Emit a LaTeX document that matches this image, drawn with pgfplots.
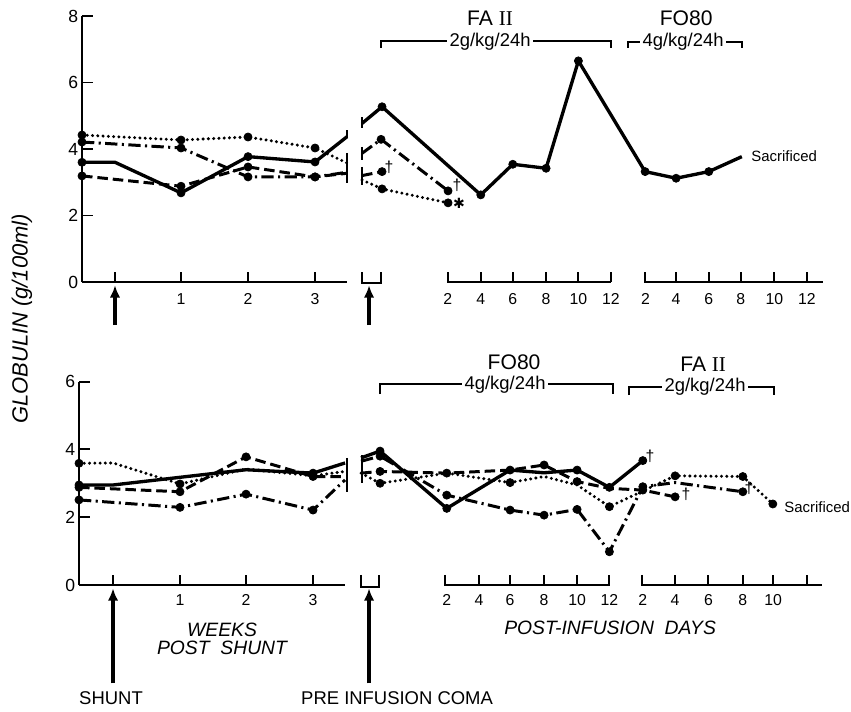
\documentclass[border=0pt]{standalone}
\usepackage{fontspec}
\setmainfont{Liberation Sans}
\newfontfamily\serif{Liberation Serif}
\newfontfamily\dejavu{DejaVu Sans}
\usepackage{pgfplots}
\pgfplotsset{compat=1.18}
\usetikzlibrary{arrows.meta}
\tikzset{
  solidS/.style={line width=1.9pt, line join=round},
  dotS/.style={line width=1.9pt, line cap=round, dash pattern=on 0pt off 3pt},
  dashS/.style={line width=1.7pt, dash pattern=on 6pt off 2.8pt},
  ddS/.style={line width=1.7pt, dash pattern=on 7pt off 2.5pt on 1.2pt off 2.5pt},
  mk/.style={only marks, mark=*, mark size=2.3pt, mark options={solid, fill=black, draw=black}},
  axl/.style={line width=1.1pt},
  brk/.style={line width=1.3pt},
  arr/.style={line width=1.9pt, -{Latex[length=7pt,width=6pt]}},
  tl/.style={font=\fontsize{9}{9}\selectfont},
  ttl/.style={font=\fontsize{12}{12}\selectfont},
  dose/.style={font=\fontsize{10.5}{11}\selectfont, fill=white, inner sep=1.5pt},
  sac/.style={font=\fontsize{8.5}{9}\selectfont, anchor=west},
  dag/.style={font=\fontsize{9}{9}\selectfont},
}
\pgfplotsset{
  panel/.style={
    anchor=south west, x=0.02cm, hide x axis, axis y line*=left,
    y axis line style={line width=1.1pt},
    tick align=inside, major tick length=0.22cm,
    ytick style={line width=1.1pt, black},
    /pgf/number format/assume math mode=true,
    yticklabel={\pgfmathprintnumber{\tick}},
    tick label style={font=\fontsize{10}{10}\selectfont},
    yticklabel style={font=\fontsize{10}{10}\selectfont, inner sep=2pt},
    clip=false, xtick=\empty,
  }
}
\begin{document}
\begin{tikzpicture}
\useasboundingbox (0,0) rectangle (17.02,14.24);
% ================= TOP PANEL =================
\begin{axis}[panel, at={(1.64cm,8.60cm)}, y=0.665cm,
  xmin=82, xmax=850, ymin=0, ymax=8, ytick={0,2,4,6,8}]
% solid
\addplot[solidS] coordinates {(82,3.6)(115,3.6)(181,2.68)(248,3.77)(315,3.61)(347,4.37)};
\addplot[solidS] coordinates {(362,4.77)(382,5.27)(480.7,2.62)(512.7,3.54)(546,3.42)(578.3,6.65)(645,3.32)(676,3.12)(708.7,3.32)(741.7,3.77)};
\addplot[mk] coordinates {(82,3.6)(181,2.68)(248,3.77)(315,3.61)(382,5.27)(480.7,2.62)(512.7,3.54)(546,3.42)(578.3,6.65)(645,3.32)(676,3.12)(708.7,3.32)};
% dotted
\addplot[dotS] coordinates {(82,4.42)(181,4.27)(248,4.36)(315,4.03)(347,3.58)};
\addplot[dotS] coordinates {(362,3.07)(382,2.8)(448,2.38)};
\addplot[mk] coordinates {(82,4.42)(181,4.27)(248,4.36)(315,4.03)(382,2.8)(448,2.38)};
% dash-dot
\addplot[ddS] coordinates {(82,4.21)(181,4.03)(248,3.16)(315,3.16)(347,3.3)};
\addplot[ddS] coordinates {(362,3.87)(381,4.29)(448,2.74)};
\addplot[mk] coordinates {(82,4.21)(181,4.03)(248,3.16)(315,3.16)(381,4.29)(448,2.74)};
% dashed
\addplot[dashS] coordinates {(82,3.19)(181,2.88)(248,3.46)(315,3.16)(347,3.27)};
\addplot[dashS] coordinates {(362,3.2)(382,3.32)};
\addplot[mk] coordinates {(82,3.19)(181,2.88)(248,3.46)(315,3.16)(382,3.32)};
% axes pieces
\draw[axl] (82,0) -- (347,0);
\draw[axl] (115,0) -- (115,0.3) (181,0) -- (181,0.3) (248,0) -- (248,0.3) (315,0) -- (315,0.3);
\draw[axl] (362,0.3) -- (362,-0.03) -- (381,-0.03) -- (381,0.3);
\draw[axl] (447.7,0.3) -- (447.7,0) -- (610.7,0);
\draw[axl] (480.7,0) -- (480.7,0.3) (512.7,0) -- (512.7,0.3) (546,0) -- (546,0.3) (578.3,0) -- (578.3,0.3) (610.7,0) -- (610.7,0.3);
\draw[axl] (645.3,0.3) -- (645.3,0) -- (823,0);
\draw[axl] (676,0) -- (676,0.3) (708.7,0) -- (708.7,0.3) (740.7,0) -- (740.7,0.3) (774.3,0) -- (774.3,0.3) (806.7,0) -- (806.7,0.3);
% break bars
\draw[brk] (347,4.57) -- (347,4.33) (347,3.88) -- (347,2.98);
\draw[brk] (362,4.96) -- (362,4.63) (362,4.06) -- (362,3.67) (362,3.46) -- (362,2.92);
% tick labels
\path[tl] (181,-0.5) node {1} (248,-0.5) node {2} (315,-0.5) node {3};
\path[tl] (447.7,-0.5) node {2} (480.7,-0.5) node {4} (512.7,-0.5) node {6} (546,-0.5) node {8} (578.3,-0.5) node {10} (610.7,-0.5) node {12};
\path[tl] (645.3,-0.5) node {2} (676,-0.5) node {4} (708.7,-0.5) node {6} (740.7,-0.5) node {8} (774.3,-0.5) node {10} (806.7,-0.5) node {12};
% arrows
\draw[arr] (115,-1.3) -- (115,-0.1);
\draw[arr] (369,-1.3) -- (369,-0.1);
% brackets and titles
\draw[axl] (381,7.04) -- (381,7.25) -- (610.7,7.25) -- (610.7,7.04);
\node[dose] at (490,7.23) {2g/kg/24h};
\node[ttl] at (490,7.94) {FA {\serif II}};
\draw[axl] (628,7.04) -- (628,7.22) -- (741.7,7.22) -- (741.7,7.04);
\node[dose] at (683,7.22) {4g/kg/24h};
\node[ttl] at (686,7.94) {FO80};
\node[sac] at (745,3.77) {Sacrificed};
\node[dag] at (457,2.9) {†};
\node[dag] at (389,3.45) {†};
\node[font=\dejavu\fontsize{8}{8}\selectfont] at (459,2.36) {✱};
% y label
\node[rotate=90, font=\itshape\fontsize{12.5}{13}\selectfont] at (22,-1.11) {GLOBULIN (g/100ml)};
\end{axis}
% ================= BOTTOM PANEL =================
\begin{axis}[panel, at={(1.58cm,2.54cm)}, y=0.678cm,
  xmin=79, xmax=850, ymin=0, ymax=6, ytick={0,2,4,6}]
% dotted
\addplot[dotS] coordinates {(79,3.59)(113,3.6)(180,2.98)(246,3.42)(313,3.22)(345,3.35)};
\addplot[dotS] coordinates {(361,3.3)(380,3.0)(446.7,3.3)(510,3.02)(544,3.2)(577,2.95)(609.3,2.31)(675,3.22)(742.7,3.2)(772.7,2.39)};
\addplot[mk] coordinates {(79,3.59)(180,2.98)(380,3.0)(510,3.02)(609.3,2.31)(675,3.22)(742.7,3.2)(772.7,2.39)};
% solid
\addplot[solidS] coordinates {(79,2.95)(113,2.95)(246,3.4)(313,3.3)(345,3.6)};
\addplot[solidS] coordinates {(361,3.75)(380,3.95)(446.7,2.26)(510,3.39)(544,3.31)(577,3.39)(609.3,2.88)(642.7,3.67)};
\addplot[mk] coordinates {(79,2.95)(313,3.3)(380,3.95)(446.7,2.26)(510,3.39)(577,3.39)(609.3,2.88)(642.7,3.67)};
% dashed
\addplot[dashS] coordinates {(79,2.88)(180,2.75)(246,3.78)(313,3.2)(345,3.2)};
\addplot[dashS] coordinates {(361,3.3)(380,3.35)(446.7,3.3)(510,3.39)(544,3.54)(577,3.05)(609.3,2.85)(642.7,2.8)(675,2.6)};
\addplot[mk] coordinates {(79,2.88)(180,2.75)(246,3.78)(313,3.2)(380,3.35)(446.7,3.3)(544,3.54)(577,3.05)(642.7,2.8)(675,2.6)};
% dash-dot
\addplot[ddS] coordinates {(79,2.51)(180,2.29)(246,2.68)(313,2.21)(345,3.1)};
\addplot[ddS] coordinates {(361,3.65)(380,3.8)(446.7,2.65)(510,2.21)(544,2.06)(577,2.23)(609.3,0.98)(642.7,2.9)(675,3.02)(742.7,2.75)};
\addplot[mk] coordinates {(79,2.51)(180,2.29)(246,2.68)(313,2.21)(380,3.8)(446.7,2.65)(510,2.21)(544,2.06)(577,2.23)(609.3,0.98)(642.7,2.9)(742.7,2.75)};
% axes pieces
\draw[axl] (79,0) -- (345,0);
\draw[axl] (113,0) -- (113,0.3) (180,0) -- (180,0.3) (246,0) -- (246,0.3) (313,0) -- (313,0.3);
\draw[axl] (361,0.3) -- (361,-0.06) -- (379,-0.06) -- (379,0.3);
\draw[axl] (445,0.3) -- (445,0) -- (610,0);
\draw[axl] (479,0) -- (479,0.3) (510,0) -- (510,0.3) (544,0) -- (544,0.3) (577,0) -- (577,0.3) (609.3,0) -- (609.3,0.3);
\draw[axl] (642,0.3) -- (642,0) -- (821.7,0);
\draw[axl] (675,0) -- (675,0.3) (708.3,0) -- (708.3,0.3) (742.7,0) -- (742.7,0.3) (773,0) -- (773,0.3) (806.7,0) -- (806.7,0.3);
% break bars
\draw[brk] (347,3.75) -- (347,2.74);
\draw[brk] (362,3.83) -- (362,3.01);
% tick labels
\path[tl] (180,-0.45) node {1} (246,-0.45) node {2} (313,-0.45) node {3};
\path[tl] (446.7,-0.45) node {2} (479,-0.45) node {4} (510,-0.45) node {6} (544,-0.45) node {8} (577,-0.45) node {10} (609.3,-0.45) node {12};
\path[tl] (642.7,-0.45) node {2} (675,-0.45) node {4} (708.3,-0.45) node {6} (742.7,-0.45) node {8} (773,-0.45) node {10};
% arrows
\draw[arr] (113,-2.9) -- (113,-0.1);
\draw[arr] (369,-2.9) -- (369,-0.1);
% brackets and titles
\draw[axl] (380,5.63) -- (380,5.92) -- (613.3,5.92) -- (613.3,5.63);
\node[dose] at (505,5.92) {4g/kg/24h};
\node[ttl] at (514,6.58) {FO80};
\draw[axl] (629.3,5.6) -- (629.3,5.83) -- (774.3,5.83) -- (774.3,5.6);
\node[dose] at (705,5.85) {2g/kg/24h};
\node[ttl] at (703,6.52) {FA {\serif II}};
\node[sac] at (778,2.31) {Sacrificed};
\node[dag] at (650,3.8) {†};
\node[dag] at (686,2.68) {†};
\node[dag] at (749,2.85) {†};
% axis titles
\node[font=\itshape\fontsize{11}{12}\selectfont] at (222,-1.33) {WEEKS};
\node[font=\itshape\fontsize{11}{12}\selectfont] at (222,-1.86) {POST\ \ SHUNT};
\node[font=\itshape\fontsize{11}{12}\selectfont] at (610,-1.27) {POST-INFUSION\ \ DAYS};
\node[font=\fontsize{10.5}{11}\selectfont] at (111,-3.33) {SHUNT};
\node[font=\fontsize{10.5}{11}\selectfont] at (397,-3.33) {PRE\ INFUSION\ COMA};
\end{axis}
\end{tikzpicture}
\end{document}
